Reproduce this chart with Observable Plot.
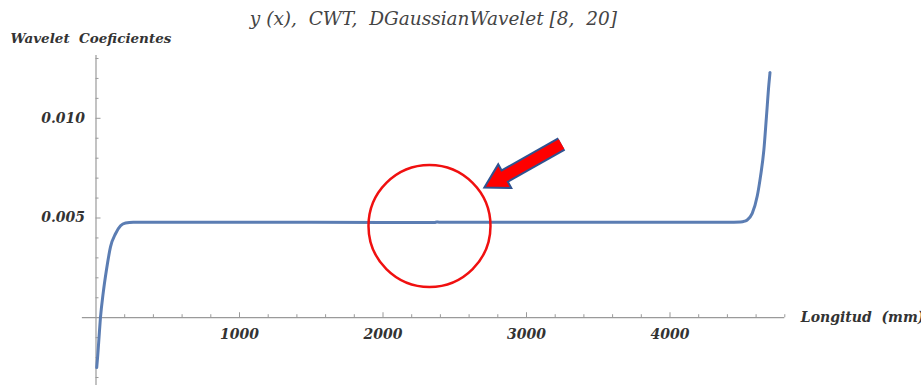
<!DOCTYPE html>
<html>
<head>
<meta charset="utf-8">
<script src="https://cdn.jsdelivr.net/npm/d3@7"></script>
<script src="https://cdn.jsdelivr.net/npm/@observablehq/plot@0.6"></script>
<style>
  html, body { margin: 0; padding: 0; background: #fff; }
  svg { display: block; }
</style>
</head>
<body>
<div id="chart"></div>
<script>
// ---- data ----
const curveX = [5, 12, 20, 31, 50, 73, 101, 136, 171, 206, 260, 400, 1000, 2000, 2360, 2375, 2390, 3000, 4000, 4400, 4491, 4520, 4538, 4573, 4608, 4631, 4654, 4672, 4689, 4697];
const curveY = [-0.0025, -0.0019, -0.0011, 0.0000, 0.00123, 0.0024, 0.00355, 0.00421, 0.00461, 0.00475, 0.00479, 0.00479, 0.00479, 0.00478, 0.00478, 0.0048, 0.00479, 0.00479, 0.00479, 0.00479, 0.00480, 0.00484, 0.0049, 0.00523, 0.0061, 0.0071, 0.0084, 0.01007, 0.0117, 0.0123];

const xTickLabels = [1000, 2000, 3000, 4000];
const yTickLabels = [0.005, 0.010];
const xMinorTicks = [200, 400, 600, 800, 1200, 1400, 1600, 1800, 2200, 2400, 2600, 2800, 3200, 3400, 3600, 3800, 4200, 4400, 4600, 4800];
const yMinorTicks = [-0.003, -0.002, -0.001, 0.001, 0.002, 0.003, 0.004, 0.006, 0.007, 0.008, 0.009, 0.011, 0.012, 0.013];

const titleText = "y (x),  CWT,  DGaussianWavelet [8,  20]";
const yLabelText = "Wavelet  Coeficientes";
const xLabelText = "Longitud  (mm)";

// annotation (data coordinates)
const circleCenter = [{x: 2324, y: 0.0046}];
const arrowBody = [{x1: 3244, y1: 0.00871, x2: 2801, y2: 0.00691}];
const arrowHead = [{x: 2801, y: 0.00691}];

const data = curveX.map((x, i) => ({x, y: curveY[i]}));

const axisColor = "#9a9a9a";
const textColor = "#333";
const font = "DejaVu Serif";

const plot = Plot.plot({
  width: 921,
  height: 385,
  marginLeft: 95.5,
  marginRight: 136.7,
  marginTop: 55,
  marginBottom: 0,
  x: {domain: [0, 4800], axis: null},
  y: {domain: [-0.0034, 0.01315], axis: null},
  style: {fontFamily: font, background: "white", color: textColor},
  marks: [
    // axes through origin
    Plot.ruleY([0], {x1: -95, x2: 4800, stroke: axisColor, strokeWidth: 1.2}),
    Plot.ruleX([0], {y1: -0.0034, y2: 0.01315, stroke: axisColor, strokeWidth: 1.2}),
    // x ticks
    Plot.ruleX(xMinorTicks, {x: d => d, y1: 0, y2: 0.00015, stroke: axisColor}),
    Plot.ruleX(xTickLabels, {x: d => d, y1: 0, y2: 0.00025, stroke: axisColor}),
    // y ticks
    Plot.ruleY(yMinorTicks, {y: d => d, x1: 0, x2: 21, stroke: axisColor}),
    Plot.ruleY(yTickLabels, {y: d => d, x1: 0, x2: 35, stroke: axisColor}),
    // tick labels
    Plot.text(xTickLabels, {x: d => d, y: 0, dy: 17, text: d => String(d), fontSize: 14, fontStyle: "italic", fontWeight: "bold", fill: textColor}),
    Plot.text(yTickLabels, {x: 0, y: d => d, dx: -11, text: d => d3.format(".3f")(d), textAnchor: "end", fontSize: 14, fontStyle: "italic", fontWeight: "bold", fill: textColor}),
    // curve
    Plot.line(data, {x: "x", y: "y", curve: "monotone-x", stroke: "#5b7db3", strokeWidth: 3}),
    // annotation circle
    Plot.dot(circleCenter, {x: "x", y: "y", r: 61, stroke: "#f01010", strokeWidth: 2.5, fill: "none"}),
    // annotation arrow
    Plot.link(arrowBody, {x1: "x1", y1: "y1", x2: "x2", y2: "y2", stroke: "#2f5290", strokeWidth: 15, strokeLinecap: "butt"}),
    Plot.dot(arrowHead, {x: "x", y: "y", symbol: "triangle", r: 10, rotate: -119, fill: "#ff0000", stroke: "#2f5290", strokeWidth: 2}),
    Plot.link(arrowBody, {x1: "x1", y1: "y1", x2: "x2", y2: "y2", stroke: "#ff0000", strokeWidth: 11, strokeLinecap: "butt"}),
    // texts
    Plot.text([titleText], {frameAnchor: "top", lineAnchor: "middle", dx: -7, dy: -36, text: d => d, fontSize: 18.5, fontStyle: "italic", fill: "#444"}),
    Plot.text([yLabelText], {frameAnchor: "top-left", lineAnchor: "middle", dx: -85.5, dy: -17, text: d => d, textAnchor: "start", fontSize: 13.5, fontStyle: "italic", fontWeight: "bold", fill: textColor}),
    Plot.text([xLabelText], {x: 4800, y: 0, dx: 16, text: d => d, textAnchor: "start", fontSize: 14, fontStyle: "italic", fontWeight: "bold", fill: textColor})
  ]
});
document.getElementById("chart").appendChild(plot);
</script>
</body>
</html>
